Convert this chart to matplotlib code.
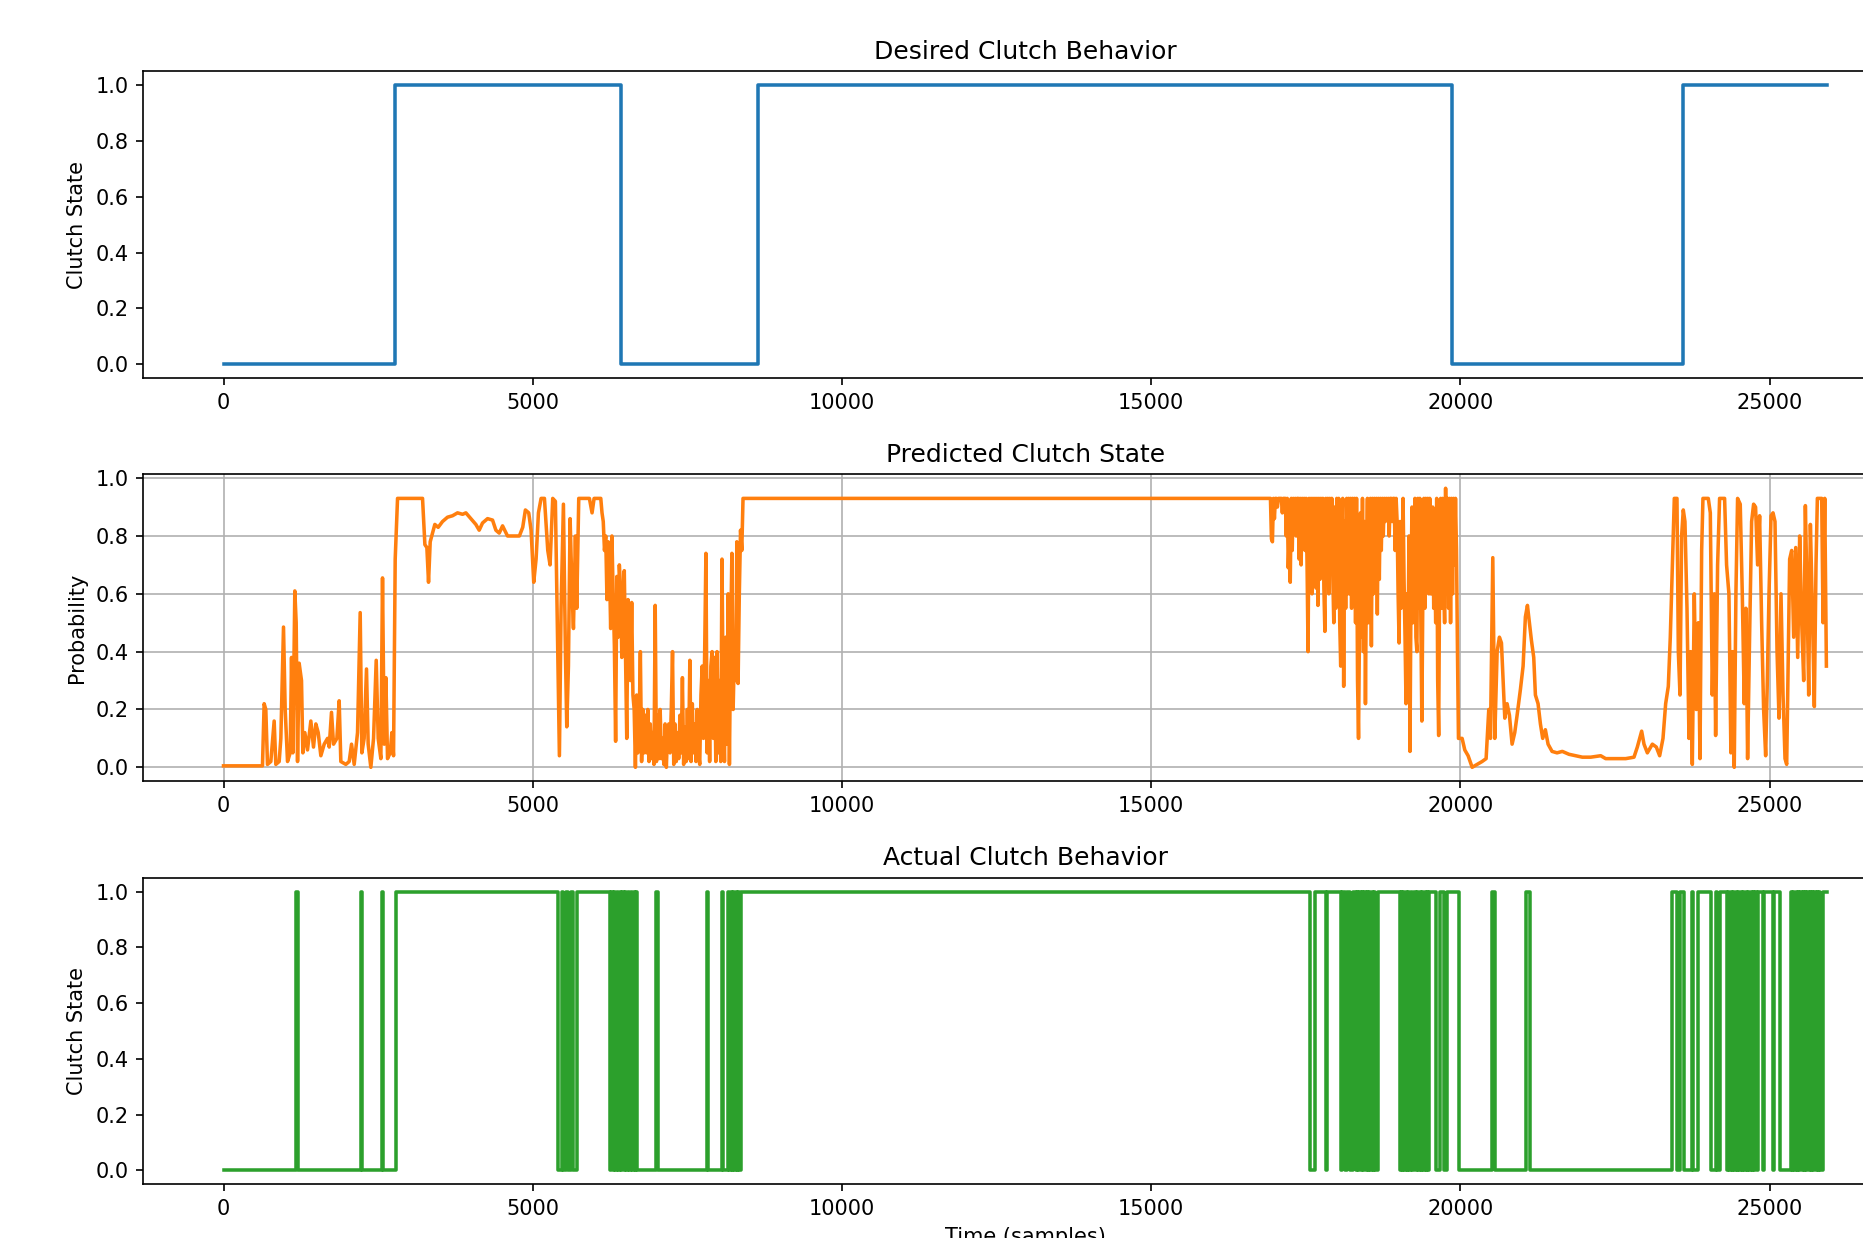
import numpy as np
import matplotlib
matplotlib.use("Agg")
import matplotlib.pyplot as plt

# ---------------- data ----------------
end_time = 25925

# Desired clutch behaviour: switch times (starts at 0)
desired_switch_times = [2765, 6420, 8650, 19865, 23595]

# Predicted clutch probability.
# part A: irregular points, 0 .. 6089
pred_time_a = [
    0, 630, 657, 684, 711, 765, 819, 846, 900, 927, 970, 997, 1035, 1078, 1100, 1121,
    1153, 1175, 1197, 1223, 1261, 1283, 1315, 1358, 1412, 1455, 1493, 1531, 1574, 1628,
    1682, 1709, 1746, 1779, 1833, 1870, 1897, 1978, 2032, 2070, 2113, 2167, 2210, 2237,
    2274, 2312, 2339, 2382, 2426, 2469, 2501, 2544, 2571, 2598, 2625, 2652, 2695, 2722,
    2749, 2776, 2814, 3218, 3256, 3288, 3315, 3342, 3380, 3417, 3471, 3541, 3622, 3703,
    3784, 3865, 3919, 4000, 4080, 4134, 4188, 4269, 4350, 4404, 4458, 4512, 4592, 4673,
    4784, 4838, 4881, 4935, 4973, 5016, 5054, 5092, 5135, 5189, 5243, 5280, 5323, 5366,
    5404, 5431, 5458, 5496, 5528, 5550, 5577, 5604, 5636, 5658, 5690, 5711, 5744, 5916,
    5959, 5992, 6089,
]
pred_prob_a = [
    0.005, 0.005, 0.22, 0.20, 0.01, 0.02, 0.16, 0.01, 0.02, 0.10, 0.485, 0.20, 0.02, 0.05, 0.38, 0.05,
    0.61, 0.50, 0.02, 0.36, 0.30, 0.05, 0.12, 0.06, 0.16, 0.07, 0.15, 0.12, 0.04, 0.08,
    0.10, 0.07, 0.19, 0.08, 0.10, 0.23, 0.02, 0.01, 0.02, 0.08, 0.01, 0.12, 0.535, 0.05,
    0.10, 0.34, 0.08, 0.00, 0.10, 0.37, 0.10, 0.03, 0.655, 0.08, 0.31, 0.03, 0.05, 0.12,
    0.04, 0.72, 0.93, 0.93, 0.77, 0.76, 0.64, 0.78, 0.81, 0.84, 0.83, 0.85, 0.865, 0.87,
    0.88, 0.875, 0.88, 0.86, 0.84, 0.82, 0.845, 0.86, 0.855, 0.82, 0.81, 0.835, 0.80, 0.80,
    0.80, 0.83, 0.89, 0.88, 0.82, 0.64, 0.72, 0.88, 0.93, 0.93, 0.75, 0.70, 0.93, 0.92,
    0.40, 0.04, 0.55, 0.91, 0.40, 0.14, 0.35, 0.86, 0.60, 0.48, 0.80, 0.55, 0.93, 0.93,
    0.88, 0.93, 0.93,
]

# part B: dense band, one reading every 20 samples from 6100 to 8400
band1_start, band1_step = 6100, 20
pred_band1 = [
    0.93, 0.88, 0.85, 0.75, 0.80, 0.58, 0.78, 0.70, 0.48, 0.80, 0.60,
    0.42, 0.09, 0.66, 0.45, 0.70, 0.62, 0.38, 0.55, 0.68, 0.40, 0.10,
    0.58, 0.35, 0.30, 0.57, 0.25, 0.20, 0.00, 0.25, 0.05, 0.15, 0.40,
    0.02, 0.20, 0.05, 0.18, 0.05, 0.20, 0.02, 0.15, 0.03, 0.12, 0.01,
    0.56, 0.02, 0.18, 0.03, 0.20, 0.03, 0.10, 0.01, 0.15, 0.00, 0.12,
    0.15, 0.05, 0.20, 0.40, 0.01, 0.15, 0.02, 0.12, 0.03, 0.18, 0.05,
    0.31, 0.01, 0.14, 0.02, 0.20, 0.03, 0.37, 0.02, 0.22, 0.05, 0.15,
    0.02, 0.20, 0.05, 0.01, 0.25, 0.35, 0.10, 0.40, 0.74, 0.05, 0.30,
    0.02, 0.35, 0.40, 0.10, 0.38, 0.02, 0.40, 0.05, 0.30, 0.02, 0.72,
    0.20, 0.02, 0.45, 0.08, 0.60, 0.01, 0.45, 0.74, 0.20, 0.40, 0.30,
    0.78, 0.29, 0.60, 0.82, 0.75, 0.93,
]

# part C: plateau
pred_time_c = [8413, 16928]
pred_prob_c = [0.93, 0.93]

# part D: dense band, one reading every 16 samples from 16944 to 19968
band2_start, band2_step = 16944, 16
pred_band2 = [
    0.79, 0.78, 0.93, 0.86, 0.93, 0.93, 0.90, 0.93, 0.93, 0.93, 0.93, 0.88, 0.93, 0.93, 0.93, 0.80,
    0.93, 0.69, 0.80, 0.64, 0.93, 0.75, 0.93, 0.88, 0.93, 0.80, 0.93, 0.93, 0.72, 0.93, 0.70, 0.93,
    0.80, 0.93, 0.75, 0.93, 0.70, 0.40, 0.93, 0.65, 0.93, 0.60, 0.93, 0.72, 0.93, 0.62, 0.93, 0.56,
    0.93, 0.65, 0.93, 0.75, 0.93, 0.62, 0.47, 0.93, 0.70, 0.93, 0.60, 0.93, 0.72, 0.93, 0.66, 0.50,
    0.90, 0.55, 0.93, 0.70, 0.93, 0.50, 0.35, 0.80, 0.93, 0.28, 0.85, 0.55, 0.93, 0.60, 0.93, 0.60,
    0.93, 0.55, 0.93, 0.65, 0.93, 0.50, 0.93, 0.30, 0.10, 0.50, 0.88, 0.45, 0.93, 0.40, 0.85, 0.22,
    0.70, 0.93, 0.50, 0.55, 0.93, 0.42, 0.93, 0.60, 0.93, 0.70, 0.93, 0.53, 0.93, 0.65, 0.93, 0.75,
    0.93, 0.80, 0.93, 0.85, 0.93, 0.88, 0.93, 0.80, 0.93, 0.93, 0.85, 0.93, 0.93, 0.75, 0.93, 0.85,
    0.60, 0.43, 0.85, 0.55, 0.70, 0.93, 0.65, 0.45, 0.22, 0.60, 0.40, 0.80, 0.055, 0.60, 0.90, 0.50,
    0.60, 0.93, 0.45, 0.40, 0.93, 0.55, 0.93, 0.50, 0.16, 0.60, 0.93, 0.55, 0.93, 0.70, 0.93, 0.60,
    0.93, 0.60, 0.60, 0.90, 0.55, 0.70, 0.50, 0.93, 0.30, 0.11, 0.70, 0.93, 0.55, 0.93, 0.65, 0.50,
    0.965, 0.60, 0.93, 0.55, 0.93, 0.50, 0.93, 0.60, 0.93, 0.70, 0.93, 0.75, 0.40, 0.10,
]

# part E: irregular points, 19984 .. end
pred_time_e = [
    19984, 20027, 20070, 20124,
    20189, 20270, 20350, 20415, 20458, 20485, 20523, 20555, 20593, 20630, 20663, 20690,
    20717, 20754, 20792, 20835, 20878, 20916, 20970, 21013, 21050, 21083, 21115, 21147,
    21185, 21212, 21255, 21293, 21330, 21373, 21417, 21481, 21562,
    21647, 21755, 21863, 21971, 22106, 22268, 22348, 22510, 22672, 22806, 22860, 22930,
    22968, 23022, 23103, 23167, 23221, 23275, 23318, 23361, 23393, 23426, 23458, 23501,
    23523, 23550, 23576, 23603, 23630, 23663, 23695, 23722, 23749, 23781, 23813, 23846,
    23873, 23900, 23921, 23964, 24007, 24040, 24072, 24104, 24126, 24158, 24190, 24233,
    24271, 24303, 24341, 24373, 24400, 24427, 24454, 24481, 24524, 24557, 24589, 24616,
    24643, 24675, 24708, 24740, 24772, 24805, 24837, 24870, 24902, 24935, 24962, 24989,
    25022, 25054, 25086, 25119, 25151, 25183, 25216, 25248, 25275, 25302, 25323, 25356,
    25388, 25421, 25453, 25485, 25518, 25550, 25577, 25604, 25631, 25658, 25690, 25722,
    25749, 25771, 25809, 25841, 25863, 25890, 25917,
]
pred_prob_e = [
    0.10, 0.10, 0.06, 0.04,
    0.00, 0.01, 0.02, 0.03, 0.20, 0.10, 0.725, 0.10, 0.40, 0.45, 0.43, 0.30,
    0.17, 0.22, 0.18, 0.08, 0.12, 0.18, 0.27, 0.35, 0.52, 0.56, 0.50, 0.44,
    0.38, 0.25, 0.22, 0.15, 0.10, 0.13, 0.08, 0.055, 0.05,
    0.055, 0.045, 0.04, 0.035, 0.035, 0.04, 0.03, 0.03, 0.03, 0.035, 0.07, 0.125,
    0.08, 0.05, 0.08, 0.07, 0.04, 0.10, 0.22, 0.28, 0.45, 0.70, 0.93, 0.93,
    0.40, 0.25, 0.80, 0.89, 0.85, 0.55, 0.10, 0.40, 0.01, 0.60, 0.20, 0.50,
    0.03, 0.75, 0.93, 0.93, 0.93, 0.88, 0.25, 0.60, 0.11, 0.70, 0.93, 0.93,
    0.93, 0.70, 0.60, 0.05, 0.40, 0.00, 0.60, 0.93, 0.91, 0.60, 0.22, 0.55,
    0.03, 0.45, 0.85, 0.91, 0.90, 0.70, 0.87, 0.50, 0.20, 0.04, 0.30, 0.60,
    0.87, 0.88, 0.85, 0.40, 0.17, 0.60, 0.25, 0.03, 0.01, 0.40, 0.72, 0.75,
    0.45, 0.76, 0.38, 0.80, 0.50, 0.30, 0.905, 0.60, 0.25, 0.84, 0.55, 0.21,
    0.70, 0.93, 0.93, 0.93, 0.50, 0.93, 0.35,
]

# Actual clutch behaviour: times at which the binary state flips (starts at 0)
actual_switch_times = [
    1180, 1210, 2215, 2232, 2565, 2580, 2788,
    5412, 5466, 5493, 5536, 5574, 5611, 5654, 5708,
    6247, 6270, 6290, 6315, 6335, 6360, 6380, 6405, 6425, 6450, 6470,
    6495, 6515, 6540, 6560, 6585, 6605, 6630, 6650, 6665, 6678,
    6990, 7018, 7810, 7830, 8058, 8080,
    8160, 8180, 8200, 8220, 8240, 8260, 8280, 8300, 8320, 8340, 8375,
    17566, 17655, 17833, 17850, 18070, 18090, 18140, 18160, 18217, 18258,
    18306, 18325, 18345, 18365, 18385, 18405, 18425, 18445, 18465,
    18485, 18505, 18525, 18545, 18565, 18585, 18605, 18625, 18661,
    19016, 19035, 19055, 19075, 19095, 19115, 19135, 19155, 19175, 19195, 19215, 19253,
    19282, 19300, 19320, 19340, 19360, 19380, 19400, 19420, 19440, 19460, 19475, 19490,
    19608, 19667, 19726, 19785, 19975,
    20505, 20560, 21060, 21120,
    23424, 23505, 23545, 23610, 23740, 23765, 23840, 24045, 24130, 24150, 24190,
    24312, 24331, 24349, 24372, 24390, 24408, 24431, 24450, 24468, 24491, 24509, 24530,
    24549, 24571, 24589, 24612, 24630, 24648, 24671, 24690, 24709, 24730, 24751, 24769,
    24792, 24815,
    24900, 24915, 25050, 25070, 25170,
    25347, 25366, 25383, 25401, 25421, 25440, 25458, 25481, 25497, 25516, 25536, 25553,
    25572, 25591, 25611, 25628, 25648, 25667, 25685, 25703, 25722, 25741, 25760, 25778,
    25797, 25820, 25870,
]

titles = ["Desired Clutch Behavior", "Predicted Clutch State", "Actual Clutch Behavior"]
ylabels = ["Clutch State", "Probability", "Clutch State"]
xlabel = "Time (samples)"


def step_xy(switch_times, t_end):
    xs = [0] + list(switch_times) + [t_end]
    ys = [0] + [(i + 1) % 2 for i in range(len(switch_times))]
    ys = ys + [ys[-1]]
    return xs, ys


band1_time = [band1_start + band1_step * i for i in range(len(pred_band1))]
band2_time = [band2_start + band2_step * i for i in range(len(pred_band2))]
pred_time = pred_time_a + band1_time + pred_time_c + band2_time + pred_time_e
pred_prob = pred_prob_a + pred_band1 + pred_prob_c + pred_band2 + pred_prob_e

# ---------------- figure ----------------
DPI = 150
LW = 1.7
fig = plt.figure(figsize=(1864 / DPI, 1238 / DPI), dpi=DPI)

left, width, height = 0.0769, 0.9462, 0.2478
bottoms = [0.6946, 0.3690, 0.0433]
axes = [fig.add_axes([left, b, width, height]) for b in bottoms]

xlim = (-0.05 * end_time, 1.05 * end_time)

# Desired
xs, ys = step_xy(desired_switch_times, end_time)
axes[0].plot(xs, ys, drawstyle="steps-post", color="#1f77b4", lw=LW)
axes[0].set_ylim(-0.05, 1.05)

# Predicted
axes[1].plot(pred_time, pred_prob, color="#ff7f0e", lw=LW)
axes[1].set_ylim(-0.048, 1.013)
axes[1].grid(True)

# Actual
xs, ys = step_xy(actual_switch_times, end_time)
axes[2].plot(xs, ys, drawstyle="steps-post", color="#2ca02c", lw=LW)
axes[2].set_ylim(-0.05, 1.05)
axes[2].set_xlabel(xlabel)

for ax, t, yl in zip(axes, titles, ylabels):
    ax.set_xlim(*xlim)
    ax.set_title(t)
    ax.set_ylabel(yl)
    ax.set_xticks([0, 5000, 10000, 15000, 20000, 25000])
    ax.set_yticks([0.0, 0.2, 0.4, 0.6, 0.8, 1.0])

fig.savefig("out.png", dpi=DPI)
